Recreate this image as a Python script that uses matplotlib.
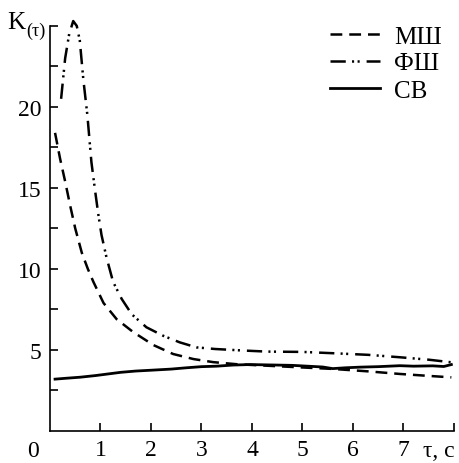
import numpy as np
import matplotlib
matplotlib.use("Agg")
from matplotlib import pyplot as plt

plt.rcParams['font.family'] = ['Liberation Serif', 'DejaVu Serif']
plt.rcParams['lines.scale_dashes'] = False

# MШ curve
ms_t = [0.1, 0.2, 0.3, 0.4, 0.5, 0.63, 0.75, 0.86, 1.06, 1.32, 1.65, 2.05, 2.44,
        2.84, 3.23, 3.7, 4.29, 5.0, 5.6, 6.3, 6.93, 7.5, 7.95]
ms_k = [18.4, 16.8, 15.4, 13.9, 12.5, 11.0, 10.0, 9.2, 7.9, 6.9, 6.1, 5.3, 4.75,
        4.44, 4.25, 4.12, 4.03, 3.92, 3.83, 3.68, 3.52, 3.4, 3.31]

# ФШ curve
fs_t = [0.22, 0.3, 0.38, 0.46, 0.53, 0.59, 0.66, 0.74, 0.82, 0.89, 0.96, 1.02, 1.12,
        1.25, 1.42, 1.62, 1.91, 2.24, 2.57, 2.9, 3.27, 3.8, 4.29, 5.0, 5.6, 6.3,
        6.93, 7.5, 7.95]
fs_k = [20.5, 23.0, 24.5, 25.3, 25.0, 24.1, 21.7, 19.5, 16.6, 14.9, 13.3, 12.1, 10.7,
        9.2, 8.15, 7.2, 6.4, 5.88, 5.47, 5.16, 5.06, 4.97, 4.9, 4.88, 4.8, 4.7,
        4.55, 4.4, 4.24]

# СВ curve
sv_t = [0.1, 0.3, 0.6, 0.9, 1.1, 1.4, 1.7, 2.0, 2.4, 2.7, 3.0, 3.3, 3.63, 3.96,
        4.3, 4.8, 5.1, 5.4, 5.6, 5.85, 6.14, 6.5, 6.93, 7.2, 7.58, 7.8, 7.95]
sv_k = [3.2, 3.25, 3.32, 3.42, 3.5, 3.62, 3.7, 3.75, 3.82, 3.9, 3.97, 4.0, 4.07, 4.1,
        4.08, 4.05, 4.0, 3.95, 3.85, 3.9, 3.94, 3.97, 4.03, 4.0, 4.02, 3.98, 4.1]

x_ticks = [1, 2, 3, 4, 5, 6, 7, 8]
x_labels = ['1', '2', '3', '4', '5', '6', '7', '']
y_ticks = [2.5, 5, 7.5, 10, 12.5, 15, 17.5, 20, 22.5, 25]
y_labels = ['', '5', '', '10', '', '15', '', '20', '', '']

fig = plt.figure(figsize=(4.6, 4.64), dpi=100)
ax = fig.add_axes([0.1087, 0.069, 0.878, 0.873])

ax.plot(ms_t, ms_k, color='k', lw=1.8, dashes=(8.5, 5), label='МШ', clip_on=False)
ax.plot(fs_t, fs_k, color='k', lw=1.8, dashes=(11, 4.5, 1.5, 2.5, 1.5, 5),
        label='ФШ', clip_on=False)
ax.plot(sv_t, sv_k, color='k', lw=2.0, label='СВ', clip_on=False)

ax.set_xlim(0, 8)
ax.set_ylim(0, 25)
ax.spines['right'].set_color('none')
ax.spines['top'].set_color('none')
for s in ('left', 'bottom'):
    ax.spines[s].set_linewidth(1.2)

ax.set_xticks(x_ticks)
ax.set_xticklabels(x_labels)
ax.set_yticks(y_ticks)
ax.set_yticklabels(y_labels)
ax.tick_params(direction='in', length=5.5, width=1.2, labelsize=17, pad=6)

ax.text(-0.042, -0.048, '0', transform=ax.transAxes, fontsize=17,
        ha='center', va='center')
ax.text(0.963, -0.048, 'τ, c', transform=ax.transAxes, fontsize=17,
        ha='center', va='center')
fig.text(0.015, 0.95, 'K', fontsize=18, ha='left', va='center')
fig.text(0.058, 0.933, '(τ)', fontsize=13, ha='left', va='center')

ax.legend(loc='upper left', bbox_to_anchor=(330 / 460, 1 - 26 / 464),
          bbox_transform=fig.transFigure, frameon=False, fontsize=18,
          handlelength=2.0, handletextpad=0.55, labelspacing=0.18, borderpad=0,
          borderaxespad=0)

fig.savefig('out.png', dpi=100)
